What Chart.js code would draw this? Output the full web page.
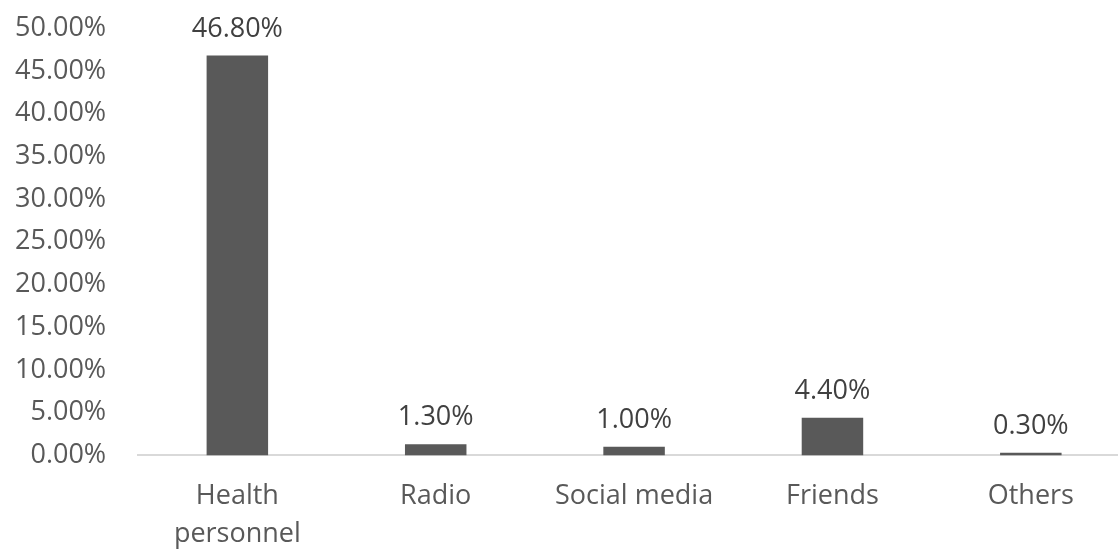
<!DOCTYPE html>
<html><head><meta charset="utf-8">
<script src="https://cdn.jsdelivr.net/npm/chart.js@4/dist/chart.umd.min.js"></script>
<style>html,body{margin:0;padding:0;background:#fff;overflow:hidden;width:1118px;height:554px}
#wrap{width:1158px;height:595px;position:relative;margin-left:-27px;margin-top:-20px}</style>
</head><body><div id="wrap"><canvas id="c"></canvas></div>
<script>
const categories = [["Health","personnel"],"Radio","Social media","Friends","Others"];
const values = [46.8, 1.3, 1.0, 4.4, 0.3];
const yTicks = [0,5,10,15,20,25,30,35,40,45,50];

const FONT = "'Open Sans', sans-serif";
const labelPlugin = {
  id: 'valueLabels',
  afterDatasetsDraw(chart) {
    const ctx = chart.ctx;
    const meta = chart.getDatasetMeta(0);
    ctx.save();
    ctx.font = "27px " + FONT;
    ctx.fillStyle = '#404040';
    ctx.textAlign = 'center';
    ctx.textBaseline = 'bottom';
    meta.data.forEach((bar, i) => {
      ctx.fillText(values[i].toFixed(2) + '%', bar.x, bar.y - 13);
    });
    ctx.restore();
  }
};

new Chart(document.getElementById('c'), {
  type: 'bar',
  data: { labels: categories, datasets: [{ data: values, backgroundColor: '#595959', barPercentage: 0.31, categoryPercentage: 1 }] },
  options: {
    responsive: true, maintainAspectRatio: false, animation: false,
    layout: { padding: { left: 10, right: 1, top: 8, bottom: 0 } },
    plugins: { legend: { display: false }, tooltip: { enabled: false } },
    scales: {
      x: {
        grid: { display: false, drawTicks: false },
        border: { color: '#d9d9d9', width: 2 },
        ticks: { color: '#595959', font: { family: FONT, size: 27, lineHeight: 1.4 }, padding: 22, maxRotation: 0, autoSkip: false }
      },
      y: {
        min: 0, max: 50,
        afterBuildTicks(axis) { axis.ticks = yTicks.map(v => ({ value: v })); },
        grid: { display: false, drawTicks: false },
        border: { display: false },
        ticks: { color: '#595959', font: { family: FONT, size: 27 }, padding: 32, callback: v => Number(v).toFixed(2) + '%' }
      }
    }
  },
  plugins: [labelPlugin]
});
</script></body></html>
